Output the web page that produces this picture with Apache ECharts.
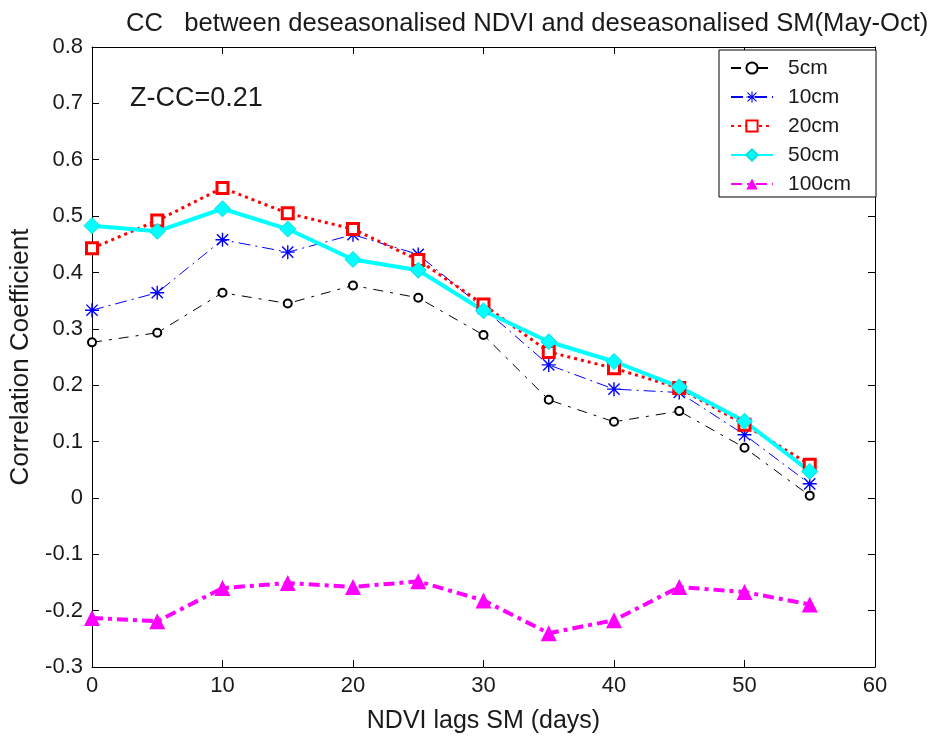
<!DOCTYPE html>
<html>
<head>
<meta charset="utf-8">
<script src="https://cdn.jsdelivr.net/npm/echarts@6/dist/echarts.min.js"></script>
<style>
html,body{margin:0;padding:0;background:#fff;}
#chart{width:939px;height:740px;}
</style>
</head>
<body>
<div id="chart"></div>
<script>
// ---- data ----
var lags = [0, 5, 10, 15, 20, 25, 30, 35, 40, 45, 50, 55];
var seriesNames = ['5cm', '10cm', '20cm', '50cm', '100cm'];
var cm5   = [0.276, 0.293, 0.364, 0.345, 0.377, 0.355, 0.289, 0.174, 0.135, 0.154, 0.089, 0.004];
var cm10  = [0.333, 0.364, 0.458, 0.436, 0.467, 0.432, 0.336, 0.236, 0.193, 0.187, 0.112, 0.025];
var cm20  = [0.443, 0.492, 0.550, 0.505, 0.477, 0.422, 0.343, 0.259, 0.230, 0.195, 0.130, 0.059];
var cm50  = [0.483, 0.473, 0.513, 0.477, 0.423, 0.404, 0.332, 0.277, 0.242, 0.197, 0.136, 0.047];
var cm100 = [-0.213, -0.219, -0.160, -0.151, -0.158, -0.148, -0.182, -0.240, -0.217, -0.158, -0.167, -0.189];
var titleText = 'CC   between deseasonalised NDVI and deseasonalised SM(May-Oct)';
var annotation = 'Z-CC=0.21';
var xName = 'NDVI lags SM (days)';
var yName = 'Correlation Coefficient';

function pairs(vals) { return lags.map(function (x, i) { return [x, vals[i]]; }); }

var FONT = '"Liberation Sans", Arial, sans-serif';
var TXT = '#1a1a1a';
var asterisk = 'path://M9,0H11V20H9Z M0,9H20V11H0Z M1.3,2.7L2.7,1.3L18.7,17.3L17.3,18.7Z M17.3,1.3L18.7,2.7L2.7,18.7L1.3,17.3Z';

var chart = echarts.init(document.getElementById('chart'), null, {renderer: 'canvas'});
var tickFmt = function (v) { var r = Math.round(v * 10) / 10; return r === 0 ? '0' : r.toFixed(1); };

var option = {
  backgroundColor: '#fff',
  animation: false,
  textStyle: {fontFamily: FONT},
  title: {
    text: titleText, left: 121, top: 6,
    textStyle: {fontFamily: FONT, fontSize: 25.6, fontWeight: 'normal', color: TXT}
  },
  grid: {left: 92, right: 64, top: 47, bottom: 73},
  legend: {
    data: seriesNames, orient: 'vertical', left: 719, top: 50,
    backgroundColor: '#fff', borderColor: '#000', borderWidth: 1, borderRadius: 0,
    padding: [7, 25, 2, 11], itemGap: 7, itemWidth: 42, itemHeight: 14,
    textStyle: {fontFamily: FONT, fontSize: 21, color: TXT, lineHeight: 22, padding: [0, 0, 0, 10]}
  },
  xAxis: [{
    type: 'value', min: 0, max: 60, interval: 10,
    name: xName, nameLocation: 'middle', nameGap: 42,
    nameTextStyle: {fontFamily: FONT, fontSize: 25, color: TXT},
    axisLine: {onZero: false, lineStyle: {color: '#000', width: 1}},
    axisTick: {inside: true, length: 7, lineStyle: {color: '#000'}},
    axisLabel: {fontFamily: FONT, fontSize: 22, color: TXT, margin: 8},
    splitLine: {show: false}
  }, {
    type: 'value', min: 0, max: 60, interval: 10, position: 'top',
    axisLine: {onZero: false, lineStyle: {color: '#000', width: 1}},
    axisTick: {inside: true, length: 7, lineStyle: {color: '#000'}},
    axisLabel: {show: false}, splitLine: {show: false}
  }],
  yAxis: [{
    type: 'value', min: -0.3, max: 0.8, interval: 0.1,
    name: yName, nameLocation: 'middle', nameGap: 56, nameRotate: 90,
    nameTextStyle: {fontFamily: FONT, fontSize: 26, color: TXT},
    axisLine: {show: true, onZero: false, lineStyle: {color: '#000', width: 1}},
    axisTick: {show: true, inside: true, length: 7, lineStyle: {color: '#000'}},
    axisLabel: {fontFamily: FONT, fontSize: 22, color: TXT, margin: 9, formatter: tickFmt},
    splitLine: {show: false}
  }, {
    type: 'value', min: -0.3, max: 0.8, interval: 0.1, position: 'right',
    axisLine: {show: true, onZero: false, lineStyle: {color: '#000', width: 1}},
    axisTick: {show: true, inside: true, length: 7, lineStyle: {color: '#000'}},
    axisLabel: {show: false}, splitLine: {show: false}
  }],
  graphic: [{
    type: 'text', left: 130, top: 85,
    style: {text: annotation, font: '27px ' + FONT, fill: TXT}
  }],
  series: [{
    name: '5cm', type: 'line', data: pairs(cm5),
    symbol: 'emptyCircle', symbolSize: 8,
    lineStyle: {color: '#000', width: 1, type: [10, 7, 3, 7]},
    itemStyle: {color: '#000', borderColor: '#000', borderWidth: 1}
  }, {
    name: '10cm', type: 'line', data: pairs(cm10),
    symbol: asterisk, symbolSize: 14,
    lineStyle: {color: '#0000ff', width: 1, type: [12, 5, 2, 5]},
    itemStyle: {color: '#0000ff'}
  }, {
    name: '20cm', type: 'line', data: pairs(cm20),
    symbol: 'rect', symbolSize: 11,
    lineStyle: {color: '#ff0000', width: 3, type: [3, 4]},
    itemStyle: {color: '#fff', borderColor: '#ff0000', borderWidth: 3}
  }, {
    name: '50cm', type: 'line', data: pairs(cm50),
    symbol: 'diamond', symbolSize: 16,
    lineStyle: {color: '#00ffff', width: 4, type: 'solid'},
    itemStyle: {color: '#00ffff', borderColor: '#00e0e0', borderWidth: 1}
  }, {
    name: '100cm', type: 'line', data: pairs(cm100),
    symbol: 'triangle', symbolSize: 16,
    lineStyle: {color: '#ff00ff', width: 4, type: [11, 5, 4, 5]},
    itemStyle: {color: '#ff00ff'}
  }]
};
chart.setOption(option);
</script>
</body>
</html>
